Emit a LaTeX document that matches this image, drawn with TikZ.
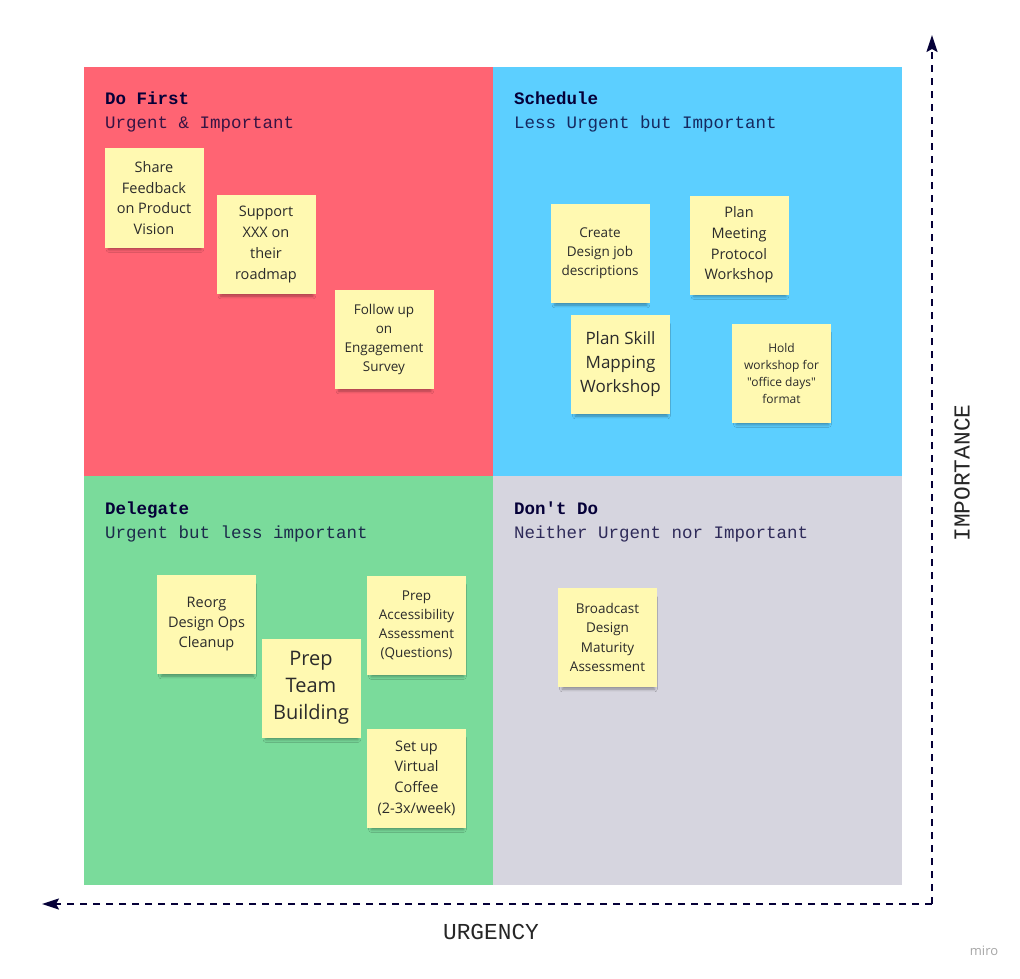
\documentclass[tikz,border=0pt]{standalone}
\usepackage{fontspec}
\usetikzlibrary{arrows.meta, shadows.blur}
\newfontfamily\notefont{Open Sans}
\newfontfamily\headfont{Liberation Mono}
\definecolor{dofirstred}{HTML}{FF6473}
\definecolor{scheduleblue}{HTML}{5CCFFF}
\definecolor{delegategreen}{HTML}{7ADB9B}
\definecolor{dontdogray}{HTML}{D6D5DF}
\definecolor{noteyellow}{HTML}{FFF9B1}
\definecolor{notetext}{HTML}{2B2B2B}
\definecolor{miroblue}{HTML}{050038}
\tikzstyle{sticky} = [rectangle, fill=noteyellow, minimum width=99pt, minimum height=99pt, inner sep=2pt, align=center, text=notetext, blur shadow={shadow xshift=1pt, shadow yshift=-6pt, shadow scale=0.93, shadow blur radius=3pt, shadow opacity=35}]
\tikzstyle{title} = [anchor=base west, inner sep=0pt, text=miroblue, font=\headfont\bfseries\fontsize{17.5}{20}\selectfont]
\tikzstyle{subtitle} = [anchor=base west, inner sep=0pt, text=miroblue, text opacity=0.8, font=\headfont\fontsize{17.5}{20}\selectfont]
\tikzstyle{axis} = [line width=2pt, draw=miroblue, dash pattern=on 7pt off 6pt, -{Stealth[length=17pt,width=11pt,inset=3pt]}]
\tikzstyle{axislabel} = [text=black!85, font=\headfont\fontsize{22.8}{26}\selectfont]

\begin{document}
\begin{tikzpicture}[x=1pt, y=-1pt]
\useasboundingbox (0,0) rectangle (1020,979);
\fill[white] (0,0) rectangle (1020,979);
%Quadrants
\fill[dofirstred] (84,67) rectangle (493,476);
\fill[scheduleblue] (493,67) rectangle (902,476);
\fill[delegategreen] (84,476) rectangle (493,885);
\fill[dontdogray] (493,476) rectangle (902,885);

\node[title] (dofirst) at (105,105) {Do First};
\node[subtitle] (dofirstsub) at (105,129) {Urgent \& Important};
\node[title] (schedule) at (514,105) {Schedule};
\node[subtitle] (schedulesub) at (514,129) {Less Urgent but Important};
\node[title] (delegate) at (105,514) {Delegate};
\node[subtitle] (delegatesub) at (105,538) {Urgent but less important};
\node[title] (dontdo) at (514,514) {Don't Do};
\node[subtitle] (dontdosub) at (514,538) {Neither Urgent nor Important};

%Do First notes
\node[sticky, font=\notefont\fontsize{14.5}{20.7}\selectfont] (share) at (154,198) {Share\\Feedback\\on Product\\Vision};
\node[sticky, font=\notefont\fontsize{14.5}{20.7}\selectfont] (support) at (266,244.5) {Support\\XXX on\\their\\roadmap};
\node[sticky, font=\notefont\fontsize{13.5}{19.3}\selectfont] (followup) at (384,339.5) {Follow up\\on\\Engagement\\Survey};

%Schedule notes
\node[sticky, font=\notefont\fontsize{13.5}{19}\selectfont] (create) at (600,253.5) {Create\\Design job\\descriptions};
\node[sticky, font=\notefont\fontsize{14.5}{20.7}\selectfont] (meeting) at (739,245) {Plan\\Meeting\\Protocol\\Workshop};
\node[sticky, font=\notefont\fontsize{17}{24}\selectfont] (skill) at (620.5,364.5) {Plan Skill\\Mapping\\Workshop};
\node[sticky, font=\notefont\fontsize{12}{17}\selectfont] (office) at (781.5,373) {Hold\\workshop for\\"office days"\\format};

%Delegate notes
\node[sticky, font=\notefont\fontsize{14.5}{20}\selectfont] (reorg) at (206.5,624.5) {Reorg\\Design Ops\\Cleanup};
\node[sticky, font=\notefont\fontsize{20}{27}\selectfont] (team) at (311,688) {Prep\\Team\\Building};
\node[sticky, font=\notefont\fontsize{13.5}{19}\selectfont] (access) at (416.5,625) {Prep\\Accessibility\\Assessment\\(Questions)};
\node[sticky, font=\notefont\fontsize{14.5}{20.7}\selectfont] (coffee) at (416.5,778) {Set up\\Virtual\\Coffee\\(2-3x/week)};

%Don't Do notes
\node[sticky, font=\notefont\fontsize{13.5}{19.3}\selectfont] (broadcast) at (607.5,637.5) {Broadcast\\Design\\Maturity\\Assessment};

%Axes
\coordinate (corner) at (932,904);
\coordinate (imptop) at (932,35);
\coordinate (urgleft) at (42,904);
\draw[axis] (corner) -- (imptop);
\draw[axis] (corner) -- (urgleft);
\node[axislabel, rotate=90] (importance) at (962,473) {IMPORTANCE};
\node[axislabel] (urgency) at (491,932) {URGENCY};

\node[text=black!35, font=\notefont\fontsize{13}{15}\selectfont] (miro) at (984,951) {miro};
\end{tikzpicture}
\end{document}
